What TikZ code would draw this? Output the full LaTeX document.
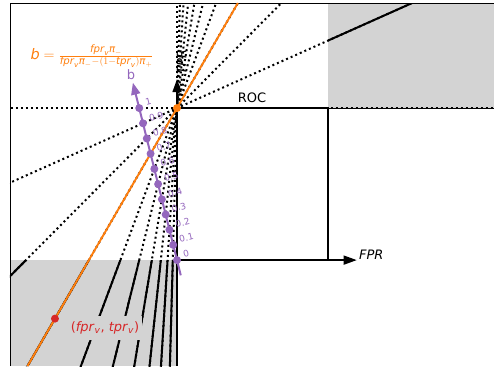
\documentclass[tikz,border=0pt]{standalone}
\usepackage{amsmath}
\usepackage{fontspec}
\setmainfont{DejaVu Sans}
\usetikzlibrary{arrows.meta}
\definecolor{costorange}{HTML}{FF7F0E}
\definecolor{bpurple}{HTML}{9467BD}
\definecolor{vred}{HTML}{D62728}
\definecolor{feasgray}{HTML}{D3D3D3}
\tikzset{
  isoline/.style={black, line width=2pt, dash pattern=on 2pt off 3pt},
  feasline/.style={black, line width=2pt},
  axisarrow/.style={black, line width=1.5pt, -{Triangle[length=13pt,width=9pt]}},
  bdot/.style={circle, fill=bpurple, inner sep=0pt, minimum size=8pt},
  btick/.style={text=bpurple, font=\fontsize{9}{9}\selectfont, anchor=west, rotate=14, inner sep=0pt},
  biglabel/.style={font=\fontsize{13}{15}\selectfont, inner sep=0pt}
}
\begin{document}
\begin{tikzpicture}[x=151pt, y=152pt]
\useasboundingbox (-1.172,-0.697) rectangle (2.099,1.711);
\fill[feasgray] (-1.106,-0.697) rectangle (0,0);
\fill[feasgray] (1,1) rectangle (2.099,1.691);
\begin{scope}
\clip (-1.106,-0.697) rectangle (2.099,1.691);
\foreach \s in {36,16,9.333,6,4,2.667,1.714,1,0.444}{
	\draw[isoline] (-1.8/\s,-0.8)--(0.8/\s,1.8);
}
\draw[isoline] (0,1)--(0,1.8);
\draw[isoline] (-1.2,1)--(2.2,1);
\end{scope}
\begin{scope}
\clip (-1.106,-0.697) rectangle (0,0) (1,1) rectangle (2.099,1.691);
\foreach \s in {36,16,9.333,6,4,2.667,1.714,1,0.444}{
	\draw[feasline] (-1.8/\s,-0.8)--(0.8/\s,1.8);
}
\end{scope}
\draw[feasline] (0,0)--(0,-0.697);
\draw[black, line width=1pt] (1,1)--(2.099,1);
\draw[black, line width=0.9pt] (-1.106,-0.697)--(-1.106,1.691)--(2.099,1.691);
\draw[black, line width=1.8pt] (0,0) rectangle (1,1);
\node[biglabel] (roc) at (0.497,1.07) {ROC};
\coordinate (origin) at (0,0);
\coordinate (perfect) at (0,1);
\coordinate (fprend) at (1.19,0);
\coordinate (tprend) at (0,1.19);
\draw[axisarrow] (origin)--(fprend);
\draw[axisarrow] (origin)--(tprend);
\node[biglabel, anchor=west] (fpr) at (1.205,0.033) {\textit{FPR}};
\node[biglabel, anchor=west, rotate=90] (tpr) at (0.03,1.22) {\textit{TPR}};
\coordinate (costlo) at (-0.990,-0.697);
\coordinate (costhi) at (0.403,1.691);
\draw[costorange, line width=1.9pt] (costlo)--(costhi);
\node[circle, fill=costorange, inner sep=0pt, minimum size=8pt] (pdot) at (perfect) {};
\node[circle, fill=vred, inner sep=0pt, minimum size=8pt] (vdot) at (-0.808,-0.385) {};
\node[biglabel, fill=feasgray, inner xsep=3pt, inner ysep=6pt, text=vred] (vlabel) at (-0.477,-0.447)
	{(\textit{fpr}$_{\textit{v}}$, \textit{tpr}$_{\textit{v}}$)};
\node[biglabel, text=costorange, font=\fontsize{14.5}{16}\selectfont] (formula) at (-0.563,1.34)
	{$\textit{b}=\frac{\textit{fpr}_{\textit{v}}\textit{π}_{-}}{\textit{fpr}_{\textit{v}}\textit{π}_{-}-(1-\textit{tpr}_{\textit{v}})\textit{π}_{+}}$};
\coordinate (bstart) at (0.025,-0.1);
\coordinate (bend) at (-0.292,1.167);
\draw[bpurple, line width=2pt, -{Triangle[length=12pt,width=9pt]}] (bstart)--(bend);
\node[biglabel, text=bpurple] (blabel) at (-0.305,1.222) {b};
\foreach \t [count=\i] in {0,0.1,0.2,0.3,0.4,0.5,0.6,0.7,0.8,0.9,1}{
	\node[bdot] (bpt\i) at (-\t/4,\t) {};
	\node[btick] (btk\i) at ([shift={(0.04,0.035)}]bpt\i.center) {\t};
}
\end{tikzpicture}
\end{document}
